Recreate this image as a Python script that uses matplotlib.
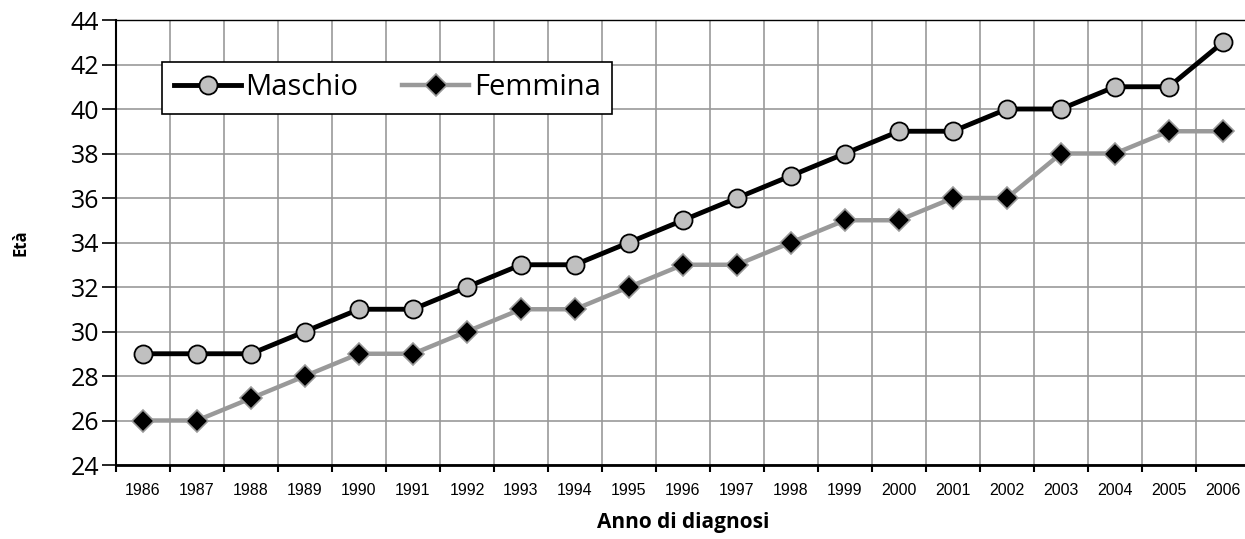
import matplotlib
matplotlib.use("Agg")
import matplotlib.pyplot as plt
import numpy as np

plt.rcParams['font.family'] = ['Open Sans', 'DejaVu Sans']

anni = [str(a) for a in range(1986, 2007)]
maschio = [29, 29, 29, 30, 31, 31, 32, 33, 33, 34, 35, 36, 37, 38, 39, 39, 40, 40, 41, 41, 43]
femmina = [26, 26, 27, 28, 29, 29, 30, 31, 31, 32, 33, 33, 34, 35, 35, 36, 36, 38, 38, 39, 39]
y_ticks = list(range(24, 45, 2))

fig = plt.figure(figsize=(12.45, 5.39), dpi=100)
ax = fig.add_axes([116/1245, 1-465/539, 1134/1245, 445/539])

x = np.arange(len(anni))
ax.plot(x, maschio, color='black', lw=3.5, marker='o', ms=13,
        mfc='#c0c0c0', mec='black', mew=1.3, label='Maschio', zorder=4)
ax.plot(x, femmina, color='#999999', lw=3.2, marker='D', ms=11,
        mfc='black', mec='#999999', mew=1.2, label='Femmina', zorder=3)

ax.set_xlim(-0.5, len(anni) - 0.5)
ax.set_ylim(24, 44)
ax.set_yticks(y_ticks)
ax.set_yticklabels([str(v) for v in y_ticks], fontsize=18)

# etichette al centro delle categorie, tacche e griglia ai bordi
ax.set_xticks(np.arange(len(anni) + 1) - 0.5)
ax.set_xticklabels([])
ax.set_xticks(x, minor=True)
ax.set_xticklabels(anni, minor=True, fontsize=11.5, family=['Liberation Sans'])
ax.tick_params(axis='x', which='minor', length=0, pad=13)
ax.tick_params(axis='x', which='major', length=5, width=1.5, direction='out')
ax.tick_params(axis='y', length=10, width=1.2, direction='out', pad=2)

ax.grid(True, which='major', color='#999999', lw=1.2)
ax.set_axisbelow(True)

ax.spines['right'].set_visible(False)
ax.spines['left'].set_linewidth(1.5)
ax.spines['bottom'].set_linewidth(2)
ax.spines['top'].set_linewidth(1)

ax.set_ylabel('Età', fontsize=12, fontweight='bold', labelpad=30)
ax.set_xlabel('Anno di diagnosi', fontsize=15, fontweight='bold', labelpad=10)

leg = ax.legend(loc='upper left', bbox_to_anchor=(0.041, 0.906), ncol=2, fontsize=21,
                frameon=True, fancybox=False, edgecolor='black', framealpha=1,
                handlelength=2.3, handletextpad=0.15, columnspacing=1.5,
                borderpad=0.4, borderaxespad=0)
leg.get_frame().set_linewidth(1.2)

fig.savefig('out.png', dpi=100)
